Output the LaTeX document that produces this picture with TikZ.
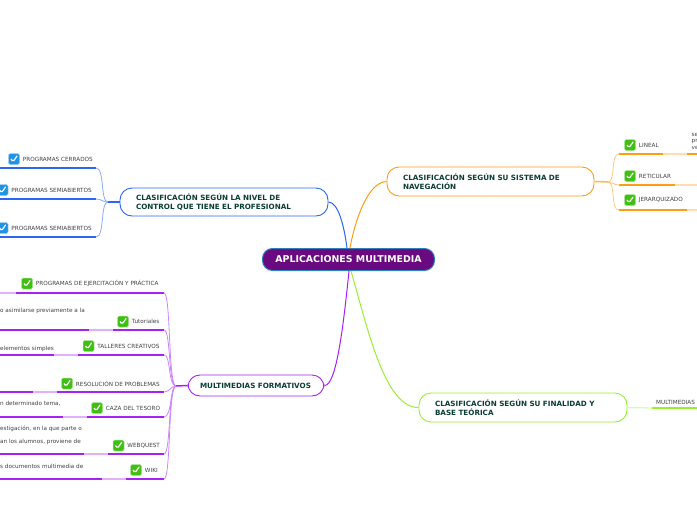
\documentclass[tikz,border=0pt]{standalone}
\usepackage{fontspec}
\setmainfont{DejaVu Sans}
\usetikzlibrary{positioning}
\definecolor{azul}{HTML}{2B66F6}
\definecolor{naranja}{HTML}{FF9D12}
\definecolor{morado}{HTML}{A621F2}
\definecolor{verde}{HTML}{99F02E}
\definecolor{raiz}{HTML}{6A0A80}
\definecolor{bordeRaiz}{HTML}{2F80B8}
\definecolor{titulo}{HTML}{0B3D33}
\definecolor{okverde}{HTML}{3FBF12}
\definecolor{okazul}{HTML}{1F93E8}
\tikzset{
  rootbox/.style={rectangle, rounded corners=10pt, draw=bordeRaiz, line width=1pt, fill=raiz,
                  text=white, font=\fontsize{9.4}{11}\selectfont\bfseries,
                  minimum width=172pt, minimum height=22pt},
  branch/.style={rectangle, rounded corners=12pt, draw=#1, line width=0.9pt, fill=white,
                 text=titulo, align=left, font=\fontsize{7.2}{8.8}\selectfont\bfseries},
  leaf/.style={inner sep=0pt, text=black!75, font=\fontsize{5.7}{6.5}\selectfont},
  tick/.style={rectangle, rounded corners=1.5pt, fill=#1, draw=#1!45, line width=0.5pt,
               inner sep=0pt, minimum size=11pt,
               path picture={\draw[white, line width=1.2pt]
                 ([shift={(-3pt,0pt)}]path picture bounding box.center)
                 -- ([shift={(-1pt,-2.8pt)}]path picture bounding box.center)
                 -- ([shift={(3.2pt,3.2pt)}]path picture bounding box.center);}},
  main/.style={draw=#1, line width=1pt},
  twig/.style={draw=#1!55, line width=0.8pt},
  under/.style={draw=#1, line width=1.5pt},
  gap/.style={draw=#1!35, line width=1.3pt},
}
\begin{document}
\begin{tikzpicture}[x=1pt,y=-1pt,node distance=3pt]
  \useasboundingbox (0,0) rectangle (697,520);
  \clip (0,0) rectangle (697,520);

  % central node and branches
  \node[rootbox] (root) at (348.5,259.5) {APLICACIONES MULTIMEDIA};
  \node[branch=azul, minimum width=208pt, minimum height=28pt, text width=176pt] (nivel) at (224,202)
    {CLASIFICACIÓN SEGÚN LA NIVEL DE\\CONTROL QUE TIENE EL PROFESIONAL};
  \node[branch=naranja, minimum width=207pt, minimum height=29pt, text width=175pt] (naveg) at (490.5,181.5)
    {CLASIFICACIÓN SEGÚN SU SISTEMA DE\\NAVEGACIÓN};
  \node[branch=morado, minimum width=136pt, minimum height=21pt, text width=112pt] (formativos) at (256,385.5)
    {MULTIMEDIAS FORMATIVOS};
  \node[branch=verde, minimum width=208pt, minimum height=29pt, text width=176pt] (finalidad) at (523,407.5)
    {CLASIFICACIÓN SEGÚN SU FINALIDAD Y\\BASE TEÓRICA};

  \draw[main=azul] (nivel.east) .. controls (338,202) and (344,225) .. (347,248);
  \draw[main=naranja] (naveg.west) .. controls (368,182) and (355,220) .. (350,248);
  \draw[main=morado] (formativos.east) .. controls (336,386) and (343,330) .. (349,271);
  \draw[main=verde] (finalidad.west) .. controls (385,408) and (368,330) .. (351,271);

  % blue side
  \coordinate (hubA) at (108,202);
  \draw[under=azul] (nivel.west) -- (hubA);
  \node[tick=okazul] (tA1) at (14,159) {};
  \node[leaf, right=of tA1] (lA1) {PROGRAMAS CERRADOS};
  \node[tick=okazul] (tA2) at (2.5,190) {};
  \node[leaf, right=of tA2] (lA2) {PROGRAMAS SEMIABIERTOS};
  \node[tick=okazul] (tA3) at (2.5,228) {};
  \node[leaf, right=of tA3] (lA3) {PROGRAMAS SEMIABIERTOS};
  \coordinate (eA1) at (96,168); \coordinate (eA2) at (96,199); \coordinate (eA3) at (96,237);
  \draw[under=azul] (0,168) -- (eA1); \draw[under=azul] (0,199) -- (eA2); \draw[under=azul] (0,237) -- (eA3);
  \draw[twig=azul] (hubA) .. controls (100,202) and (105,168) .. (eA1);
  \draw[twig=azul] (hubA) .. controls (102,202) and (102,199) .. (eA2);
  \draw[twig=azul] (hubA) .. controls (100,202) and (105,237) .. (eA3);

  % orange side
  \coordinate (hubB) at (608,182);
  \draw[under=naranja!70] (naveg.east) -- (hubB);
  \node[tick=okverde] (tB1) at (630,145) {};
  \node[leaf, right=of tB1] (lB1) {LINEAL};
  \node[tick=okverde] (tB2) at (630,176) {};
  \node[leaf, right=of tB2] (lB2) {RETICULAR};
  \node[tick=okverde] (tB3) at (630,200) {};
  \node[leaf, right=of tB3] (lB3) {JERARQUIZADO};
  \coordinate (sB1) at (619,154); \coordinate (sB2) at (619,185); \coordinate (sB3) at (619,210);
  \draw[under=naranja] (sB1) -- (663,154); \draw[gap=naranja] (663,154) -- (687,154); \draw[under=naranja] (687,154) -- (697,154);
  \draw[under=naranja] (sB2) -- (675,185); \draw[gap=naranja] (675,185) -- (697,185);
  \draw[under=naranja] (sB3) -- (687,210); \draw[gap=naranja] (687,210) -- (697,210);
  \draw[twig=naranja] (hubB) .. controls (616,182) and (610,154) .. (sB1);
  \draw[twig=naranja] (hubB) .. controls (612,182) and (614,185) .. (sB2);
  \draw[twig=naranja] (hubB) .. controls (616,182) and (610,210) .. (sB3);
  \node[leaf, anchor=west] (rB1) at (691.5,134.5) {se};
  \node[leaf, anchor=west] (rB2) at (691.5,141) {pr};
  \node[leaf, anchor=west] (rB3) at (691.5,148) {ve};

  % purple side
  \coordinate (hubC) at (176,386);
  \draw[under=morado] (formativos.west) -- (hubC);
  \node[tick=okverde] (tC1) at (27,283.5) {};
  \node[leaf, right=of tC1] (lC1) {PROGRAMAS DE EJERCITACIÓN Y PRÁCTICA};
  \node[tick=okverde] (tC2) at (123,321.5) {};
  \node[leaf, right=of tC2] (lC2) {Tutoriales};
  \node[tick=okverde] (tC3) at (88.5,346) {};
  \node[leaf, right=of tC3] (lC3) {TALLERES CREATIVOS};
  \node[tick=okverde] (tC4) at (67,383.5) {};
  \node[leaf, right=of tC4] (lC4) {RESOLUCIÓN DE PROBLEMAS};
  \node[tick=okverde] (tC5) at (97,408) {};
  \node[leaf, right=of tC5] (lC5) {CAZA DEL TESORO};
  \node[tick=okverde] (tC6) at (118.5,445.5) {};
  \node[leaf, right=of tC6] (lC6) {WEBQUEST};
  \node[tick=okverde] (tC7) at (136,470) {};
  \node[leaf, right=of tC7] (lC7) {WIKI};
  \node[leaf, anchor=west] (nC2) at (0,311) {o asimilarse previamente a la};
  \node[leaf, anchor=west] (nC3) at (0,349) {elementos simples};
  \node[leaf, anchor=west] (nC5) at (0,404) {n determinado tema,};
  \node[leaf, anchor=west] (nC6a) at (0,429) {estigación, en la que parte o};
  \node[leaf, anchor=west] (nC6b) at (0,442) {an los alumnos, proviene de};
  \node[leaf, anchor=west] (nC7) at (0,466) {s documentos multimedia de};
  \coordinate (eC1) at (164,293); \coordinate (eC2) at (164,330); \coordinate (eC3) at (164,355);
  \coordinate (eC4) at (164,392); \coordinate (eC5) at (164,417); \coordinate (eC6) at (164,454);
  \coordinate (eC7) at (164,479);
  \draw[gap=morado] (0,293) -- (16,293); \draw[under=morado] (16,293) -- (eC1);
  \draw[under=morado] (0,330) -- (89,330); \draw[gap=morado] (89,330) -- (113,330); \draw[under=morado] (113,330) -- (eC2);
  \draw[under=morado] (0,355) -- (54,355); \draw[gap=morado] (54,355) -- (78,355); \draw[under=morado] (78,355) -- (eC3);
  \draw[under=morado] (0,392) -- (33,392); \draw[gap=morado] (33,392) -- (57,392); \draw[under=morado] (57,392) -- (eC4);
  \draw[under=morado] (0,417) -- (63,417); \draw[gap=morado] (63,417) -- (87,417); \draw[under=morado] (87,417) -- (eC5);
  \draw[under=morado] (0,454) -- (84,454); \draw[gap=morado] (84,454) -- (108,454); \draw[under=morado] (108,454) -- (eC6);
  \draw[under=morado] (0,479) -- (102,479); \draw[gap=morado] (102,479) -- (126,479); \draw[under=morado] (126,479) -- (eC7);
  \foreach \e in {eC1,eC2,eC3,eC7}
    \draw[twig=morado] (hubC) .. controls (168,386) and (171,0|-\e) .. (\e);
  \draw[twig=morado] (hubC) .. controls (170,386) and (170,392) .. (eC4);
  \draw[twig=morado] (hubC) .. controls (170,386) and (172,417) .. (eC5);
  \draw[twig=morado] (hubC) .. controls (168,386) and (171,454) .. (eC6);

  % green side
  \coordinate (hubD) at (652,408);
  \draw[gap=verde] (finalidad.east) -- (hubD);
  \coordinate (eD) at (697,408);
  \draw[under=verde] (hubD) -- (eD);
  \node[leaf, anchor=west] (lD) at (656,402) {MULTIMEDIAS};
\end{tikzpicture}
\end{document}
